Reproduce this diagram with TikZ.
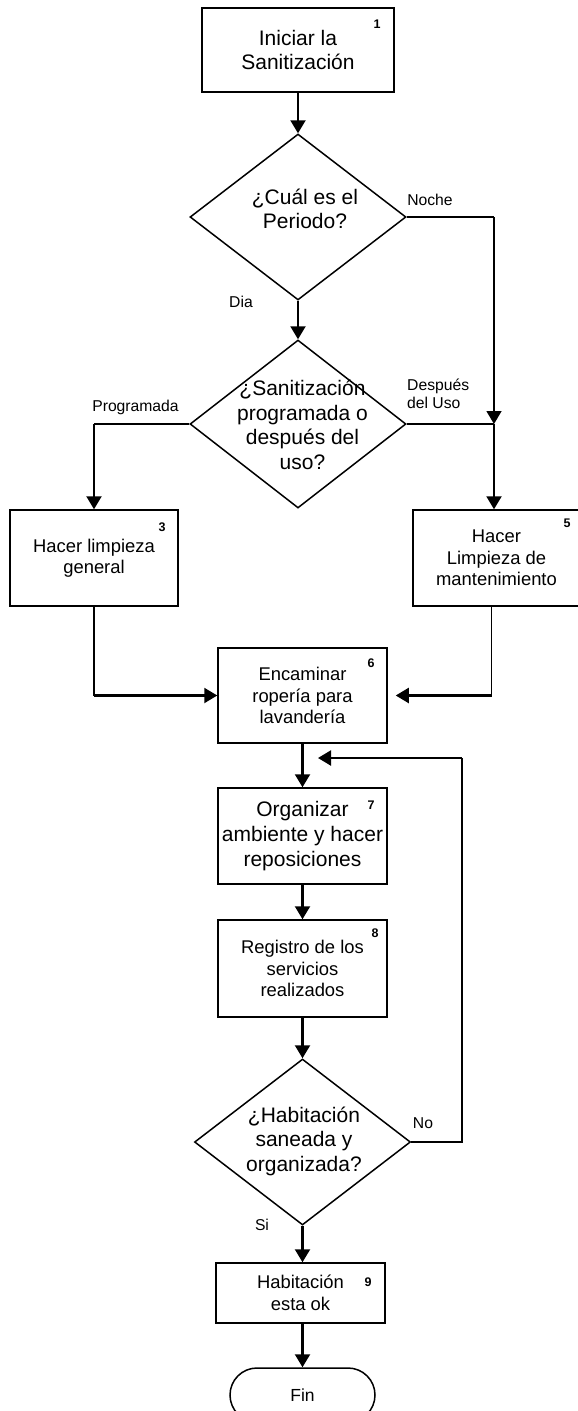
\documentclass[tikz,border=0pt]{standalone}
\usepackage{fontspec}
\setmainfont{Liberation Sans}
\usetikzlibrary{arrows.meta,shapes.geometric}
\tikzset{
  boxA/.style={draw, line width=1.5pt, rectangle, inner sep=0pt, align=center, font=\fontsize{18.4}{21.5}\selectfont},
  boxB/.style={boxA, font=\fontsize{21}{24.8}\selectfont},
  dia/.style={draw, line width=1.5pt, diamond, inner sep=0pt, minimum width=216pt, minimum height=166pt},
  big/.style={font=\fontsize{21}{24.5}\selectfont, align=center, inner sep=0pt},
  lab/.style={font=\fontsize{15.7}{18.5}\selectfont, align=left, inner sep=0pt},
  num/.style={font=\bfseries\fontsize{12.5}{14}\selectfont, inner sep=0pt},
  arr/.style={line width=2.2pt, -{Triangle[width=15pt,length=13pt]}},
  arrthin/.style={line width=1.5pt, -{Triangle[width=15pt,length=13pt]}},
  thinl/.style={line width=1.3pt},
}
\begin{document}
\begin{tikzpicture}[x=1pt,y=-1pt]
\useasboundingbox (0,0) rectangle (578,1411);

% nodes
\node[boxB, minimum width=192pt, minimum height=84pt] (b1) at (298,50) {Iniciar la\\Sanitización};
\node[num] (n1) at (377,24) {1};

\node[dia] (d1) at (298,217) {};
\node[big] (d1t) at (305,209) {¿Cuál es el\\Periodo?};
\node[lab] (lN) at (430,200) {Noche};
\node[lab] (lD) at (241,302) {Dia};

\node[dia, minimum height=168pt] (d2) at (298,424) {};
\node[big] (d2t) at (302.5,425) {¿Sanitización\\programada o\\después del\\uso?};
\node[lab] (lP) at (135.5,407) {Programada};
\node[lab, anchor=west] (lU) at (407,394) {Después\\del Uso};

\node[boxA, minimum width=168pt, minimum height=96pt] (b3) at (94,558) {Hacer limpieza\\general};
\node[num] (n3) at (162,527) {3};
\node[boxA, minimum width=167pt, minimum height=96pt] (b5) at (496.5,558) {Hacer\\Limpieza de\\mantenimiento};
\node[num] (n5) at (567,523) {5};

\node[boxA, minimum width=169pt, minimum height=95pt] (b6) at (302.5,695.5) {Encaminar\\ropería para\\lavandería};
\node[num] (n6) at (371,663) {6};

\node[boxB, minimum width=169pt, minimum height=96pt] (b7) at (302.5,836) {Organizar\\ambiente y hacer\\reposiciones};
\node[num] (n7) at (371,805) {7};

\node[boxA, minimum width=169pt, minimum height=97pt] (b8) at (302.5,968.5) {Registro de los\\servicios\\realizados};
\node[num] (n8) at (375,933) {8};

\node[dia] (d3) at (302.5,1142) {};
\node[big] (d3t) at (304,1141) {¿Habitación\\saneada y\\organizada?};
\node[lab] (lNo) at (423,1123) {No};
\node[lab] (lSi) at (262,1225) {Si};

\node[boxA, minimum width=169pt, minimum height=60pt] (b9) at (300.5,1293) {Habitación\\esta ok};
\node[num] (n9) at (368,1282) {9};

\node[draw, line width=1.5pt, rounded corners=27pt, minimum width=145pt, minimum height=54pt, inner sep=0pt, font=\fontsize{17.5}{20}\selectfont] (fin) at (302.5,1395) {Fin};

% coordinates
\coordinate (cP) at (d2.west -| b3.north);
\coordinate (cN) at (494,217);
\coordinate (cJ) at (494,424);
\coordinate (cL) at (b3.south |- b6.west);
\coordinate (c5) at ([xshift=-5pt]b5.south);
\coordinate (cR) at (c5 |- b6.east);
\coordinate (cA) at (462,1142);
\coordinate (cB) at (462,758);
\coordinate (cT) at (318,758);

% connectors
\draw[arr] (b1.south) -- (d1.north);
\draw[arr] (d1.south) -- (d2.north);
\draw[thinl] (d1.east) -- (cN);
\draw[arrthin] (cN) -- (cJ);
\draw[thinl] (d2.east) -- (cJ);
\draw[arr] (cJ) -- (cJ |- b5.north);
\draw[thinl] (d2.west) -- (cP);
\draw[arr] (cP) -- (b3.north);
\draw[thinl] (b3.south) -- (cL);
\draw[arr] (cL) -- (b6.west);
\draw[thinl] (c5) -- (cR);
\draw[arr, shorten >=8pt] (cR) -- (b6.east);
\draw[arr] (b6.south) -- (b7.north);
\draw[arr] (b7.south) -- (b8.north);
\draw[arr] (b8.south) -- (d3.north);
\draw[thinl] (d3.east) -- (cA) -- (cB);
\draw[arr] (cB) -- (cT);
\draw[arr] (d3.south) -- (d3.south |- b9.north);
\draw[arr] (b9.south -| fin.north) -- (fin.north);
\end{tikzpicture}
\end{document}
